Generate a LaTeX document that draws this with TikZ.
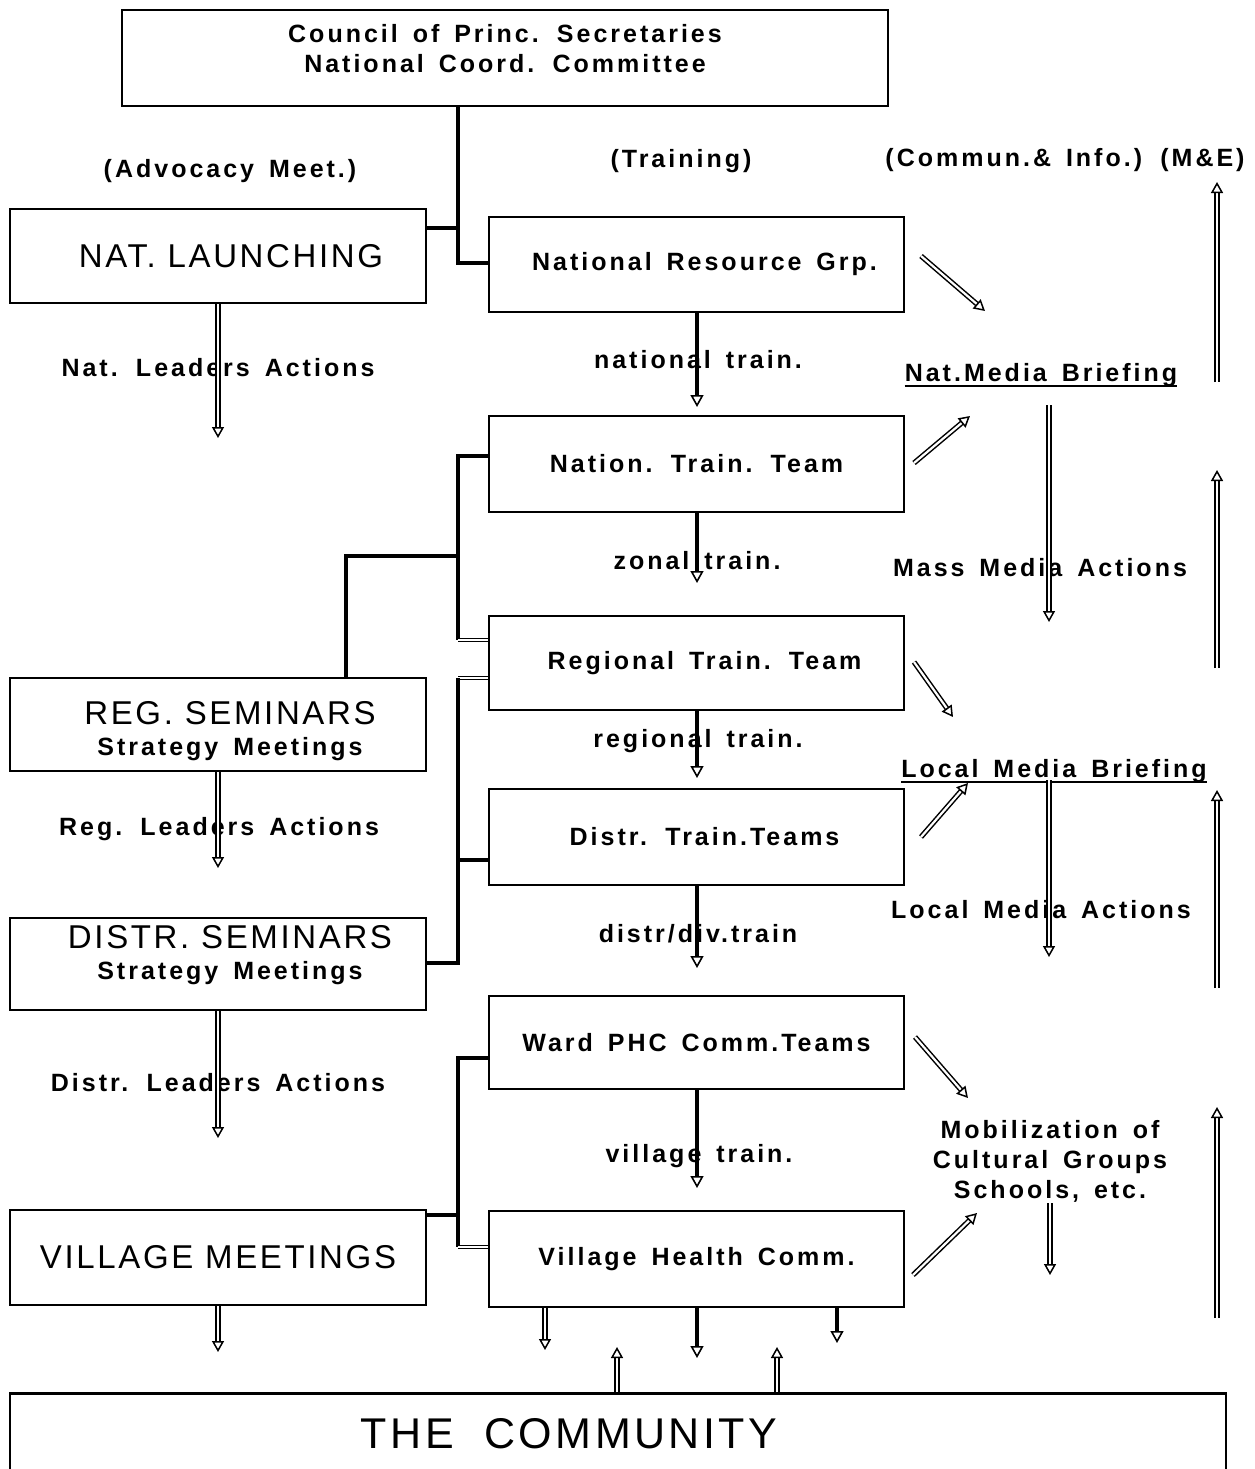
\documentclass[tikz,border=0pt]{standalone}
\usepackage{fontspec}
\setmainfont{Liberation Sans}
\newfontfamily\labfont{Liberation Sans}[LetterSpace=12, WordSpace=1.5]
\newfontfamily\bigfont{Liberation Sans}[LetterSpace=8]
\usetikzlibrary{arrows.meta}
\newcommand\labtxt{\labfont\bfseries\fontsize{25}{30}\selectfont}
\newcommand\bigtxt{\bigfont\fontsize{33}{38}\selectfont}
\tikzset{
  box/.style={draw, line width=2.6pt, inner sep=0pt, align=center},
  lab/.style={font=\labtxt, inner sep=0pt, align=center},
  big/.style={font=\bigtxt, inner sep=0pt, align=center},
  conn/.style={line width=4pt},
  dseg/.style={double, double distance=1.6pt, line width=1.4pt},
  darr/.style={double, double distance=2.2pt, line width=1.5pt,
    -{Triangle[open, length=11pt, width=12pt]}},
  sarr/.style={line width=4pt, -{Triangle[open, length=12pt, width=13pt, line width=1.6pt]}},
}
\begin{document}
\begin{tikzpicture}[x=1pt, y=-1pt]
\useasboundingbox (0,0) rectangle (1254,1469);
\fill[white] (0,0) rectangle (1254,1469);

% boxes
\node[box, minimum width=766pt, minimum height=96pt] (top) at (505,58)
  {\raisebox{5.5pt}[0pt][0pt]{\begin{tabular}{@{}c@{}}\labtxt Council of Princ. Secretaries\\[8pt]\labtxt National Coord. Committee\end{tabular}}};
\node[box, big, minimum width=416pt, minimum height=94pt] (natl) at (218,256) {\hspace*{26pt}NAT. LAUNCHING};
\node[box, lab, minimum width=415pt, minimum height=95pt] (nrg) at (696.5,264.5) {\hspace*{16pt}National Resource Grp.};
\node[box, lab, minimum width=415pt, minimum height=96pt] (ntt) at (696.5,464) {Nation. Train. Team};
\node[box, lab, minimum width=415pt, minimum height=94pt] (rtt) at (696.5,663) {\hspace*{16pt}Regional Train. Team};
\node[box, lab, minimum width=415pt, minimum height=96pt] (dtt) at (696.5,837) {\hspace*{16pt}Distr. Train.Teams};
\node[box, lab, minimum width=415pt, minimum height=93pt] (ward) at (696.5,1042.5) {Ward PHC Comm.Teams};
\node[box, lab, minimum width=415pt, minimum height=96pt] (vhc) at (696.5,1259) {Village Health Comm.};
\node[box, minimum width=416pt, minimum height=93pt] (reg) at (218,724.5)
  {\hspace*{24pt}\raisebox{-9pt}[0pt][0pt]{\begin{tabular}{@{}c@{}}\bigtxt REG. SEMINARS\\[10pt]\labtxt Strategy Meetings\end{tabular}}};
\node[box, minimum width=416pt, minimum height=92pt] (distr) at (218,964)
  {\hspace*{24pt}\raisebox{6.5pt}[0pt][0pt]{\begin{tabular}{@{}c@{}}\bigtxt DISTR. SEMINARS\\[9pt]\labtxt Strategy Meetings\end{tabular}}};
\node[box, big, minimum width=416pt, minimum height=95pt] (vm) at (218,1257.5) {VILLAGE MEETINGS};
\node[box, minimum width=1216pt, minimum height=100pt, anchor=north] (comm) at (618,1392) {};
\node[big, font=\bigfont\fontsize{43}{48}\selectfont] (commtxt) at (569,1434) {THE\ \ COMMUNITY};

% labels
\node[lab] (adv) at (230,171) {(Advocacy Meet.)};
\node[lab] (trn) at (681,161) {(Training)};
\node[lab] (cmi) at (1065,160) {(Commun.\& Info.) (M\&E)};
\node[lab] (nla) at (218,368) {Nat. Leaders Actions};
\node[lab] (ntr) at (698,360) {national train.};
\node[lab] (nmb) at (1041,375) {Nat.Media Briefing};
\node[lab] (ztr) at (697,561) {zonal train.};
\node[lab] (mma) at (1040,568) {Mass Media Actions};
\node[lab] (rtr) at (698,741) {regional train.};
\node[lab] (lmb) at (1054,771) {Local Media Briefing};
\node[lab] (rla) at (219,829) {Reg. Leaders Actions};
\node[lab] (lma) at (1041,910) {Local Media Actions};
\node[lab] (dtr) at (698,934) {distr/div.train};
\node[lab] (dla) at (218,1083) {Distr. Leaders Actions};
\node[lab] (vtr) at (699,1156) {village train.};
\node[lab] (mob) at (1050,1161) {Mobilization of\\Cultural Groups\\Schools, etc.};

% underlines
\draw[line width=2.6pt] ([yshift=-11pt]nmb.west) -- ([yshift=-11pt]nmb.east);
\draw[line width=2.6pt] ([yshift=-11pt]lmb.west) -- ([yshift=-11pt]lmb.east);

% connectors
\coordinate (j0) at (458,228);
\coordinate (j1) at (458,263);
\draw[conn] (top.south -| j1) -- (j1) -- (j1 -| nrg.west);
\draw[conn] (j0 -| natl.east) -- (j0);

\coordinate (b1t) at (458,456);
\coordinate (b1m) at (458,556);
\coordinate (b1b) at (458,640);
\coordinate (b1l) at (346,556);
\draw[conn] (b1t -| ntt.west) -- (b1t) -- (b1b);
\draw[dseg] (b1b) -- (b1b -| rtt.west);
\draw[conn] (reg.north -| b1l) -- (b1l) -- (b1m);

\coordinate (b2t) at (458,678);
\coordinate (b2m) at (458,860);
\coordinate (b2b) at (458,963);
\draw[dseg] (b2t -| rtt.west) -- (b2t);
\draw[conn] (b2t) -- (b2b) -- (b2b -| distr.east);
\draw[conn] (b2m) -- (b2m -| dtt.west);

\coordinate (b3t) at (458,1058);
\coordinate (b3v) at (458,1215);
\coordinate (b3b) at (458,1247);
\draw[conn] (b3t -| ward.west) -- (b3t) -- (b3b);
\draw[conn] (b3v -| vm.east) -- (b3v);
\draw[dseg] (b3b) -- (b3b -| vhc.west);

% left column arrows
\coordinate (e1) at (218,438);
\coordinate (e2) at (218,868);
\coordinate (e3) at (218,1138);
\coordinate (e4) at (218,1352);
\draw[darr] (natl.south) -- (e1);
\draw[darr] (reg.south) -- (e2);
\draw[darr] (distr.south) -- (e3);
\draw[darr] (vm.south) -- (e4);

% centre column arrows
\draw[sarr] (nrg.south -| 697,0) -- (697,407);
\draw[sarr] (ntt.south -| 697,0) -- (697,583);
\draw[sarr] (rtt.south -| 697,0) -- (697,778);
\draw[sarr] (dtt.south -| 697,0) -- (697,968);
\draw[sarr] (ward.south -| 697,0) -- (697,1188);

% community arrows
\draw[darr] (vhc.south -| 545,0) -- (545,1350);
\draw[sarr] (vhc.south -| 697,0) -- (697,1358);
\draw[sarr] (vhc.south -| 837,0) -- (837,1343);
\draw[darr] (comm.north -| 617,0) -- (617,1347);
\draw[darr] (comm.north -| 777,0) -- (777,1347);

% diagonal arrows
\coordinate (d1s) at (921,256); \coordinate (d1e) at (985,311);
\coordinate (d2s) at (914,463); \coordinate (d2e) at (970,416);
\coordinate (d3s) at (914,662); \coordinate (d3e) at (953,717);
\coordinate (d4s) at (921,837); \coordinate (d4e) at (968,783);
\coordinate (d5s) at (915,1037); \coordinate (d5e) at (968,1098);
\coordinate (d6s) at (913,1275); \coordinate (d6e) at (977,1213);
\draw[darr] (d1s) -- (d1e);
\draw[darr] (d2s) -- (d2e);
\draw[darr] (d3s) -- (d3e);
\draw[darr] (d4s) -- (d4e);
\draw[darr] (d5s) -- (d5e);
\draw[darr] (d6s) -- (d6e);

% media arrows
\coordinate (m1s) at (1049,405); \coordinate (m1e) at (1049,622);
\coordinate (m2s) at (1049,780); \coordinate (m2e) at (1049,957);
\coordinate (m3s) at (1050,1203); \coordinate (m3e) at (1050,1275);
\draw[darr] (m1s) -- (m1e);
\draw[darr] (m2s) -- (m2e);
\draw[darr] (m3s) -- (m3e);

% M&E arrows
\coordinate (u1s) at (1217,382); \coordinate (u1e) at (1217,182);
\coordinate (u2s) at (1217,668); \coordinate (u2e) at (1217,470);
\coordinate (u3s) at (1217,988); \coordinate (u3e) at (1217,790);
\coordinate (u4s) at (1217,1318); \coordinate (u4e) at (1217,1107);
\draw[darr] (u1s) -- (u1e);
\draw[darr] (u2s) -- (u2e);
\draw[darr] (u3s) -- (u3e);
\draw[darr] (u4s) -- (u4e);
\end{tikzpicture}
\end{document}
